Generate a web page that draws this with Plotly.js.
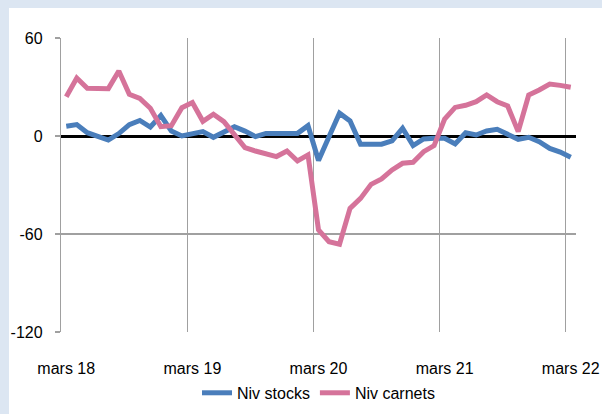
<!DOCTYPE html>
<html>
<head>
<meta charset="utf-8">
<script src="https://cdn.plot.ly/plotly-3.0.1.min.js"></script>
<style>
  html, body { margin: 0; padding: 0; width: 602px; height: 414px; background: #dce6f2; overflow: hidden; }
  #chart { position: absolute; left: 9px; top: 8px; width: 593px; height: 406px; background: #ffffff; }
</style>
</head>
<body>
<div id="chart"></div>
<script>
const monthNames = ["mars", "avr.", "mai", "juin", "juil.", "août", "sept.", "oct.", "nov.", "déc.", "janv.", "févr."];
const months = [];
for (let i = 0; i < 49; i++) {
  const yr = 18 + Math.floor((i + 2) / 12);
  months.push(monthNames[i % 12] + " " + yr);
}
const tickLabels = ["mars 18", "mars 19", "mars 20", "mars 21", "mars 22"];

const nivStocks = [6, 7, 2, -0.5, -2.5, 1.5, 7, 9.5, 5.5, 12.5, 3, 0,
  1, 2.7, -0.8, 2.7, 5.7, 3, -0.4, 1.6, 1.6, 1.6, 1.6, 6.3,
  -15, -0.4, 14, 9.2, -5, -5, -5, -3, 4.7, -5.9, -1.8, -1.4,
  -1.4, -4.9, 2, 0.6, 3.1, 4.1, 1.2, -2, -0.8, -3.5, -7.6, -9.8,
  -13];
const nivCarnets = [24, 35.5, 29.2, 29, 29, 39.8, 25.5, 23, 17, 5.7, 6.3, 17.3,
  20.5, 9, 13.3, 8.8, 0.6, -7.1, -9.2, -10.6, -12.6, -9.2, -15.3, -11.6,
  -57.5, -64.7, -66.3, -44.3, -38.2, -29.6, -26.3, -20.8, -16.7, -16.1, -9.6, -5.9,
  10.3, 17.5, 18.8, 21, 25.1, 21, 18.4, 2.7, 25.1, 28.2, 31.8, 31,
  29.8];

const font = { family: "Liberation Sans, Arial, sans-serif", size: 16, color: "#000000" };

const traces = [
  { x: months, y: nivStocks, name: "Niv stocks", type: "scatter", mode: "lines",
    line: { color: "#4a7ebb", width: 5 } },
  { x: months, y: nivCarnets, name: "Niv carnets", type: "scatter", mode: "lines",
    line: { color: "#d5739a", width: 5 } }
];

const layout = {
  width: 593, height: 406,
  margin: { l: 52, r: 26, t: 30, b: 82 },
  paper_bgcolor: "#ffffff", plot_bgcolor: "#ffffff",
  font: font,
  showlegend: true,
  legend: { orientation: "h", x: 0.5, xanchor: "center", xref: "paper",
    y: 0.052, yanchor: "middle", yref: "container",
    font: font, bgcolor: "rgba(0,0,0,0)", itemwidth: 30 },
  xaxis: {
    type: "category",
    categoryorder: "array", categoryarray: months,
    range: [-0.5, 48.5],
    tickmode: "array", tickvals: tickLabels, ticktext: tickLabels,
    tickson: "boundaries", tickangle: 0,
    ticks: "", ticklabelstandoff: 25,
    showgrid: true, gridcolor: "#a0a0a0", gridwidth: 1.2,
    showline: false, zeroline: false,
    tickfont: font
  },
  yaxis: {
    range: [-120, 60],
    tickmode: "array", tickvals: [60, 0, -60, -120], ticktext: ["60", "0", "-60", "-120"],
    ticks: "outside", ticklen: 5, tickcolor: "#a0a0a0", tickwidth: 1.2,
    ticklabelstandoff: 9,
    showgrid: true, gridcolor: "#a0a0a0", gridwidth: 1.2,
    showline: true, linecolor: "#a0a0a0", linewidth: 1.2,
    zeroline: true, zerolinecolor: "#000000", zerolinewidth: 3,
    tickfont: font
  }
};

Plotly.newPlot("chart", traces, layout, { displayModeBar: false, staticPlot: true });
</script>
</body>
</html>
